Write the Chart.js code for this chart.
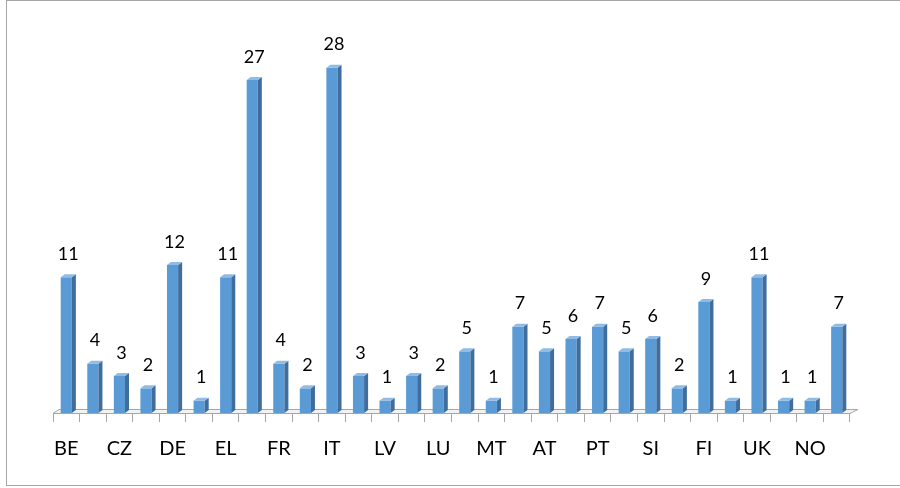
<!DOCTYPE html>
<html>
<head>
<meta charset="utf-8">
<script src="https://cdn.jsdelivr.net/npm/chart.js"></script>
<style>
  body { margin: 0; background: #fff; }
  #frame { position: absolute; left: 6px; top: 0; width: 900px; height: 484px; border: 1px solid #a6a6a6; }
  #wrap { position: absolute; left: 0; top: 0; width: 900px; height: 488px; }
</style>
</head>
<body>
<div id="frame"></div>
<div id="wrap"><canvas id="countryChart"></canvas></div>
<script>
const countries = ['BE', 'BG', 'CZ', 'DK', 'DE', 'EE', 'EL', 'ES', 'FR', 'HR', 'IT', 'CY', 'LV', 'LT', 'LU',
                   'HU', 'MT', 'NL', 'AT', 'PL', 'PT', 'RO', 'SI', 'SK', 'FI', 'SE', 'UK', 'IS', 'NO', 'CH'];
const counts = [11, 4, 3, 2, 12, 1, 11, 27, 4, 2, 28, 3, 1, 3, 2,
                5, 1, 7, 5, 6, 7, 5, 6, 2, 9, 1, 11, 1, 1, 7];

const DX = 4, DY = 3;

// fake Excel 3D look: floor slab, bar side + top faces, value labels
const bars3d = {
    id: 'bars3d',
    beforeDatasetsDraw(chart) {
        const c = chart.ctx, a = chart.chartArea;
        c.save();
        c.fillStyle = '#f2f2f2';
        c.strokeStyle = '#a6a6a6';
        c.lineWidth = 1;
        c.beginPath();
        c.moveTo(a.left, a.bottom + 0.5);
        c.lineTo(a.left + 6, a.bottom - 3.5);
        c.lineTo(a.right + 8, a.bottom - 3.5);
        c.lineTo(a.right, a.bottom + 0.5);
        c.closePath();
        c.fill();
        c.stroke();
        c.restore();
    },
    afterDatasetsDraw(chart) {
        const c = chart.ctx;
        const meta = chart.getDatasetMeta(0);
        c.save();
        meta.data.forEach((bar, i) => {
            const p = bar.getProps(['x', 'y', 'base', 'width'], true);
            const l = p.x - p.width / 2, r = p.x + p.width / 2;
            c.fillStyle = '#3f6e9e';
            c.beginPath();
            c.moveTo(r, p.y);
            c.lineTo(r + DX, p.y - DY);
            c.lineTo(r + DX, p.base - DY);
            c.lineTo(r, p.base);
            c.closePath();
            c.fill();
            c.fillStyle = '#8fbbe6';
            c.beginPath();
            c.moveTo(l, p.y);
            c.lineTo(l + DX, p.y - DY);
            c.lineTo(r + DX, p.y - DY);
            c.lineTo(r, p.y);
            c.closePath();
            c.fill();
            c.fillStyle = '#000';
            c.font = '18px Lato';
            c.textAlign = 'center';
            c.textBaseline = 'middle';
            c.fillText(String(counts[i]), p.x + 2, p.y - 23);
        });
        c.restore();
    }
};

const ctx = document.getElementById('countryChart').getContext('2d');
const countryChart = new Chart(ctx, {
    type: 'bar',
    data: {
        labels: countries,
        datasets: [{
            data: counts,
            backgroundColor: '#5b9bd5',
            borderWidth: 0,
            barPercentage: 0.42,
            categoryPercentage: 1
        }]
    },
    options: {
        responsive: true,
        maintainAspectRatio: false,
        animation: false,
        events: [],
        layout: { padding: { left: 53, right: 50, top: 43, bottom: 12 } },
        plugins: {
            legend: { display: false },
            tooltip: { enabled: false }
        },
        scales: {
            y: {
                display: false,
                min: 0,
                max: 30
            },
            x: {
                border: { color: '#a6a6a6' },
                grid: {
                    offset: true,
                    drawOnChartArea: false,
                    color: '#a6a6a6',
                    tickLength: 9
                },
                ticks: {
                    autoSkip: false,
                    maxRotation: 0,
                    padding: 15,
                    color: '#000',
                    font: { family: 'Lato', size: 20 },
                    callback: function (v, i) { return i % 2 === 0 ? this.getLabelForValue(v) : ''; }
                }
            }
        }
    },
    plugins: [bars3d]
});
</script>
</body>
</html>
